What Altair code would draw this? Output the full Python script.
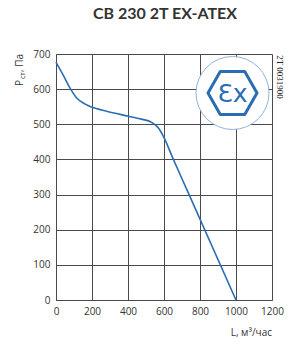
import altair as alt
import pandas as pd

flow = [0, 40, 78, 115, 160, 198, 281, 402, 480, 522, 550, 575, 596, 652, 735, 1000]
pressure = [676, 640, 603, 575, 558, 549, 537, 523, 514, 508, 499, 485, 466, 400, 305, 0]
x_ticks = [0, 200, 400, 600, 800, 1000, 1200]
y_ticks = [0, 100, 200, 300, 400, 500, 600, 700]

df = pd.DataFrame({"L": flow, "P": pressure})

W, H = 216, 246
FONT = "Open Sans"
BLUE = "#2a6db3"
GRID = "#4a4a4a"

x = alt.X("L:Q", scale=alt.Scale(domain=[0, 1200], nice=False),
          axis=alt.Axis(values=x_ticks, title=None, grid=True, ticks=False, format="d",
                        labelPadding=6, labelFont=FONT, labelFontSize=10,
                        labelColor="#333", gridColor=GRID, gridWidth=1,
                        domainColor=GRID, labelFlush=False))
y = alt.Y("P:Q", scale=alt.Scale(domain=[0, 700], nice=False),
          axis=alt.Axis(values=y_ticks, title=None, grid=True, ticks=False, format="d",
                        labelPadding=6, labelFont=FONT, labelFontSize=10,
                        labelColor="#333", gridColor=GRID, gridWidth=1,
                        domainColor=GRID, labelFlush=False))

line = alt.Chart(df).mark_line(color=BLUE, strokeWidth=1.6, interpolate="monotone").encode(x=x, y=y)

one = alt.Chart(pd.DataFrame({"a": [0]}))

# logo: circle + hexagon + Ex
cx, cy = 232.5 - 56, 93 - 54
circle = one.mark_point(shape="circle", size=5329, filled=True, fill="white",
                        stroke="#8fb3dc", strokeWidth=1, opacity=1).encode(
    x=alt.value(cx), y=alt.value(cy))
hexa = one.mark_point(shape="M -1 0 L -0.5 -0.88 L 0.5 -0.88 L 1 0 L 0.5 0.88 L -0.5 0.88 Z",
                      size=2401, filled=False, stroke=BLUE, strokeWidth=3, opacity=1,
                      strokeJoin="round").encode(
    x=alt.value(cx), y=alt.value(cy))
ex = one.mark_text(text="Ɛx", font="DejaVu Sans", fontSize=25, color=BLUE,
                   align="center", baseline="middle").encode(
    x=alt.value(cx), y=alt.value(cy + 1))

serial = one.mark_text(text="2T 0031900", font="Liberation Sans Narrow", fontSize=9,
                       color="#222", angle=90, align="center", baseline="middle").encode(
    x=alt.value(280 - 56), y=alt.value(77 - 54))

title = one.mark_text(text="CB 230 2T EX-ATEX", font="Lato", fontWeight="bold", fontSize=16,
                      color="#333", align="center", baseline="alphabetic").encode(
    x=alt.value(165 - 56), y=alt.value(19 - 54))

xt = one.mark_text(text="L, м³/час", font=FONT, fontSize=10, color="#333",
                   align="right", baseline="alphabetic").encode(
    x=alt.value(272 - 56), y=alt.value(336 - 54))

yt1 = one.mark_text(text="Р", font=FONT, fontSize=10, color="#333", angle=270,
                    align="left", baseline="alphabetic").encode(
    x=alt.value(23 - 56), y=alt.value(86 - 54))
yt2 = one.mark_text(text="ст", font=FONT, fontSize=7, color="#333", angle=270,
                    align="left", baseline="alphabetic").encode(
    x=alt.value(25 - 56), y=alt.value(79 - 54))
yt3 = one.mark_text(text=", Па", font=FONT, fontSize=10, color="#333", angle=270,
                    align="left", baseline="alphabetic").encode(
    x=alt.value(23 - 56), y=alt.value(72 - 54))

chart = alt.layer(line, circle, hexa, ex, serial, title, xt, yt1, yt2, yt3).properties(
    width=W, height=H,
    autosize=alt.AutoSizeParams(type="none"),
    padding={"left": 56, "top": 54, "right": 28, "bottom": 49},
    background="white",
).configure_view(stroke=None)

chart.save("out.html", embed_options={"renderer": "svg", "actions": False})
